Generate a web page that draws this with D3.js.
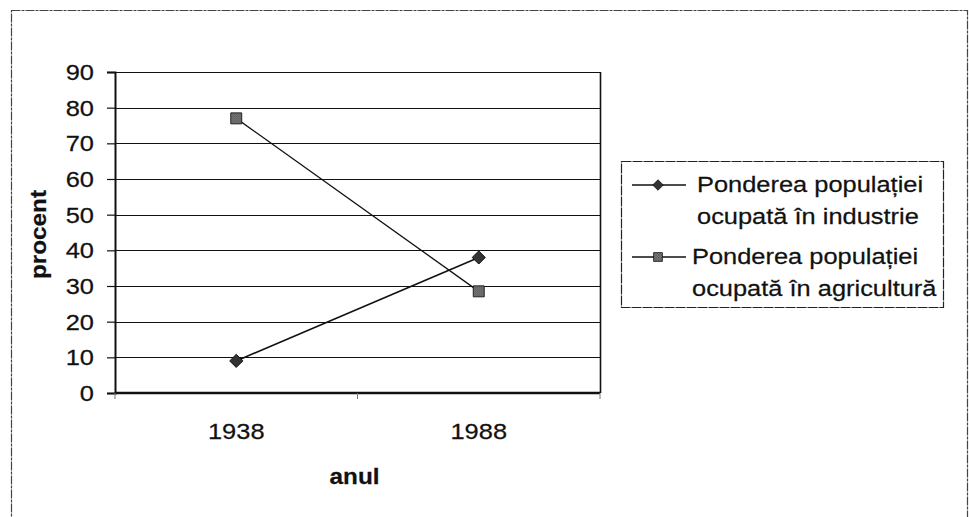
<!DOCTYPE html>
<html>
<head>
<meta charset="utf-8">
<script src="https://cdn.jsdelivr.net/npm/d3@7"></script>
<style>
  body { margin: 0; background: #fff; }
  text { font-family: "Liberation Sans", Arial, sans-serif; fill: #111; stroke: #111; stroke-width: 0.25; }
</style>
</head>
<body>
<svg id="chart" width="969" height="517"></svg>
<script>
// data
var years = ["1938", "1988"];
var industrie = [9, 38];
var agricultura = [77, 28.5];
var yTicks = [0, 10, 20, 30, 40, 50, 60, 70, 80, 90];
var seriesNames = [
    ["Ponderea populației", "ocupată în industrie"],
    ["Ponderea populației", "ocupată în agricultură"]
];

var fontSize = 22.5; // scan looks a bit wider than plain Arial
var sx = 1.13;       // horizontal stretch for the text

var svg = d3.select("#chart");
var plot = {left: 115, top: 72, right: 600, bottom: 393};

// hatched fill for the square markers
var defs = svg.append("defs");
var pat = defs.append("pattern")
    .attr("id", "hatch")
    .attr("width", 2).attr("height", 2)
    .attr("patternUnits", "userSpaceOnUse");
pat.append("rect").attr("width", 2).attr("height", 2).attr("fill", "#9a9a9a");
pat.append("rect").attr("width", 1).attr("height", 1).attr("fill", "#333");
pat.append("rect").attr("x", 1).attr("y", 1).attr("width", 1).attr("height", 1).attr("fill", "#444");

// outer frame of the chart
svg.append("rect")
    .attr("x", 11.5).attr("y", 10.5)
    .attr("width", 956).attr("height", 520)
    .attr("fill", "none")
    .attr("stroke", "#444")
    .attr("stroke-width", 1.2)
    .attr("stroke-dasharray", "9,1,3,1");

var x = d3.scaleBand().domain(years).range([plot.left, plot.right]);
var y = d3.scaleLinear().domain([0, 90]).range([plot.bottom, plot.top]);

// gridlines
svg.append("g")
    .selectAll("line")
    .data(yTicks.filter(d => d > 0))
    .join("line")
    .attr("x1", plot.left).attr("x2", plot.right)
    .attr("y1", d => Math.round(y(d)) + 0.5)
    .attr("y2", d => Math.round(y(d)) + 0.5)
    .attr("stroke", "#111")
    .attr("stroke-width", 1.2);

// right border of plot area
svg.append("line")
    .attr("x1", plot.right + 0.5).attr("x2", plot.right + 0.5)
    .attr("y1", plot.top).attr("y2", plot.bottom)
    .attr("stroke", "#111").attr("stroke-width", 1.6);

// y axis
var yAxis = svg.append("g")
    .attr("transform", "translate(" + plot.left + ",0)")
    .call(d3.axisLeft(y).tickValues(yTicks).tickSize(8).tickFormat(""));
yAxis.select(".domain").attr("stroke", "#111").attr("stroke-width", 2);
yAxis.selectAll(".tick line").attr("stroke", "#111").attr("stroke-width", 1.2);

svg.append("g")
    .selectAll("text")
    .data(yTicks)
    .join("text")
    .attr("transform", d => "translate(94," + y(d) + ") scale(" + sx + ",1)")
    .attr("text-anchor", "end")
    .attr("dy", "0.36em")
    .attr("font-size", fontSize)
    .text(d => d);

// x axis
var xAxis = svg.append("g")
    .attr("transform", "translate(0," + plot.bottom + ")");
xAxis.append("line")
    .attr("x1", plot.left).attr("x2", plot.right)
    .attr("stroke", "#111").attr("stroke-width", 2.5);
xAxis.selectAll("line.tk")
    .data([plot.left, plot.left + x.step(), plot.right])
    .join("line")
    .attr("class", "tk")
    .attr("x1", d => d).attr("x2", d => d)
    .attr("y1", 0).attr("y2", 6)
    .attr("stroke", "#777").attr("stroke-width", 1);

svg.append("g")
    .selectAll("text")
    .data(years)
    .join("text")
    .attr("transform", d => "translate(" + (x(d) + x.bandwidth() / 2) + ",439) scale(" + sx + ",1)")
    .attr("text-anchor", "middle")
    .attr("font-size", fontSize)
    .text(d => d);

// axis titles
svg.append("text")
    .attr("transform", "translate(" + ((plot.left + plot.right) / 2 - 3) + ",484) scale(" + sx + ",1)")
    .attr("text-anchor", "middle")
    .attr("font-size", fontSize - 1)
    .attr("font-weight", "bold")
    .text("anul");

svg.append("text")
    .attr("transform", "translate(46," + ((plot.top + plot.bottom) / 2 + 2) + ") rotate(-90) scale(" + sx + ",1)")
    .attr("text-anchor", "middle")
    .attr("font-size", fontSize - 1)
    .attr("font-weight", "bold")
    .text("procent");

// series
var cx = d => x(d) + x.bandwidth() / 2;
var line = d3.line().x(d => cx(d[0])).y(d => y(d[1]));

svg.append("path")
    .datum(years.map((yr, i) => [yr, agricultura[i]]))
    .attr("d", line)
    .attr("fill", "none").attr("stroke", "#111").attr("stroke-width", 1.3);
svg.append("path")
    .datum(years.map((yr, i) => [yr, industrie[i]]))
    .attr("d", line)
    .attr("fill", "none").attr("stroke", "#111").attr("stroke-width", 1.6);

var diamond = d3.symbol().type(d3.symbolDiamond2).size(110);
var square = d3.symbol().type(d3.symbolSquare).size(120);

svg.append("g")
    .selectAll("path")
    .data(years.map((yr, i) => [yr, industrie[i]]))
    .join("path")
    .attr("transform", d => "translate(" + cx(d[0]) + "," + y(d[1]) + ")")
    .attr("d", diamond)
    .attr("fill", "#333").attr("stroke", "#111").attr("stroke-width", 1);

svg.append("g")
    .selectAll("path")
    .data(years.map((yr, i) => [yr, agricultura[i]]))
    .join("path")
    .attr("transform", d => "translate(" + cx(d[0]) + "," + y(d[1]) + ")")
    .attr("d", square)
    .attr("fill", "url(#hatch)").attr("stroke", "#222").attr("stroke-width", 1);

// legend
var leg = svg.append("g");
leg.append("rect")
    .attr("x", 621.5).attr("y", 161.5)
    .attr("width", 322).attr("height", 146)
    .attr("fill", "#fff")
    .attr("stroke", "#222").attr("stroke-width", 1.2)
    .attr("stroke-dasharray", "10,1");

var legY = [185, 257];
var legTextX = [697, 692];
var markers = [diamond, square];
var fills = ["#333", "url(#hatch)"];

seriesNames.forEach(function(lines, i) {
    leg.append("line")
        .attr("x1", 632).attr("x2", 686)
        .attr("y1", legY[i]).attr("y2", legY[i])
        .attr("stroke", "#111").attr("stroke-width", 1.3);
    leg.append("path")
        .attr("transform", "translate(658," + legY[i] + ") scale(0.8)")
        .attr("d", markers[i])
        .attr("fill", fills[i]).attr("stroke", "#111");
    lines.forEach(function(t, j) {
        leg.append("text")
            .attr("transform", "translate(" + legTextX[i] + "," + (legY[i] + 7 + j * 32) + ") scale(" + sx + ",1)")
            .attr("font-size", fontSize)
            .text(t);
    });
});
</script>
</body>
</html>
